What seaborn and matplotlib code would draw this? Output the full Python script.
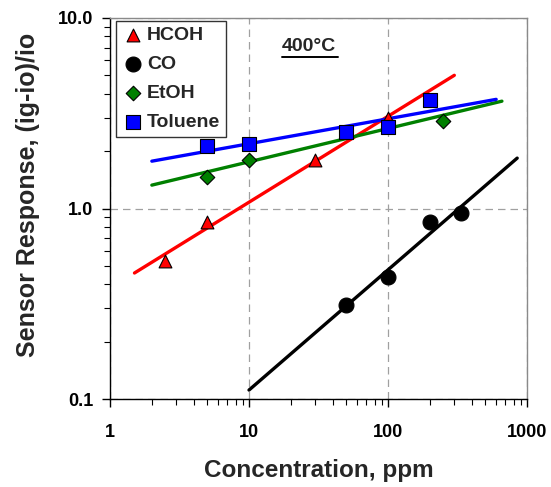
import numpy as np
import pandas as pd
import matplotlib
matplotlib.use("Agg")
import matplotlib.pyplot as plt
import seaborn as sns
from matplotlib.ticker import FixedLocator, NullFormatter, LogLocator

# ---------------- data ----------------
hcoh_x = [2.5, 5, 30, 100]
hcoh_y = [0.53, 0.85, 1.80, 3.0]
co_x = [50, 100, 200, 335]
co_y = [0.31, 0.436, 0.85, 0.945]
etoh_x = [5, 10, 250]
etoh_y = [1.46, 1.80, 2.88]
tol_x = [5, 10, 50, 100, 200]
tol_y = [2.13, 2.18, 2.51, 2.68, 3.72]

# power-law fits: log10(y) = intercept + slope*log10(x), drawn over x range
fit_names = ["HCOH", "CO", "EtOH", "Toluene"]
fit_slope = [0.451, 0.631, 0.175, 0.131]
fit_intercept = [-0.418, -1.584, 0.070, 0.209]
fit_xmin = [1.5, 10, 2, 2]
fit_xmax = [300, 850, 660, 600]

x_ticks = [1, 10, 100, 1000]
x_tick_labels = ["1", "10", "100", "1000"]
y_ticks = [0.1, 1.0, 10.0]
y_tick_labels = ["0.1", "1.0", "10.0"]

colors = {"HCOH": "#ff0000", "CO": "#000000", "EtOH": "#008000", "Toluene": "#0000ff"}
markers = {"HCOH": "^", "CO": "o", "EtOH": "D", "Toluene": "s"}
sizes = {"HCOH": 85, "CO": 115, "EtOH": 55, "Toluene": 95}
series = {"HCOH": (hcoh_x, hcoh_y), "CO": (co_x, co_y),
          "EtOH": (etoh_x, etoh_y), "Toluene": (tol_x, tol_y)}

# ---------------- style ----------------
sns.set_style("white")
FONT = ["Liberation Sans", "DejaVu Sans"]
plt.rcParams["font.family"] = FONT
plt.rcParams["font.weight"] = "bold"

fig = plt.figure(figsize=(5.51, 4.87), dpi=100)
ax = fig.add_axes([110 / 551, 1 - 399 / 487, (527 - 110) / 551, (399 - 18) / 487])
ax.set_xscale("log")
ax.set_yscale("log")

# fit lines
for n, s, b, x0, x1 in zip(fit_names, fit_slope, fit_intercept, fit_xmin, fit_xmax):
    xs = np.array([x0, x1], dtype=float)
    ys = 10 ** (b + s * np.log10(xs))
    sns.lineplot(x=xs, y=ys, ax=ax, color=colors[n], lw=2.4, legend=False,
                 zorder=2, solid_capstyle="round")

# data points
for n, (xv, yv) in series.items():
    sns.scatterplot(x=xv, y=yv, ax=ax, marker=markers[n], s=sizes[n],
                    color=colors[n], edgecolor="black", linewidth=0.8,
                    label=n, zorder=3)

ax.set_xlim(1, 1000)
ax.set_ylim(0.1, 10)

ax.xaxis.set_major_locator(FixedLocator(x_ticks))
ax.set_xticklabels(x_tick_labels)
ax.yaxis.set_major_locator(FixedLocator(y_ticks))
ax.set_yticklabels(y_tick_labels)
ax.xaxis.set_minor_locator(LogLocator(base=10, subs=np.arange(2, 10)))
ax.yaxis.set_minor_locator(LogLocator(base=10, subs=np.arange(2, 10)))
ax.xaxis.set_minor_formatter(NullFormatter())
ax.yaxis.set_minor_formatter(NullFormatter())

ax.tick_params(which="major", direction="out", length=6, width=1, colors="black",
               labelsize=13, pad=12)
ax.tick_params(axis="y", which="major", pad=6)
ax.tick_params(which="minor", direction="out", length=4, width=0.8, colors="black")
ax.tick_params(bottom=True, left=True, which="both")
for lab in ax.get_xticklabels() + ax.get_yticklabels():
    lab.set_fontweight("bold")
    lab.set_family(FONT)

ax.grid(which="major", ls=(0, (6, 4)), color="#a0a0a0", lw=0.9)
ax.grid(which="minor", visible=False)

for side in ["left", "bottom"]:
    ax.spines[side].set_color("black")
    ax.spines[side].set_linewidth(1.0)
for side in ["top", "right"]:
    ax.spines[side].set_color("#8a8a8a")
    ax.spines[side].set_linewidth(1.0)

ax.set_xlabel("Concentration, ppm", fontsize=17.5, fontweight="bold", family=FONT)
ax.set_ylabel("Sensor Response, (ig-io)/io", fontsize=18, fontweight="bold",
              family=FONT)
ax.xaxis.set_label_coords(0.5, -0.158)
ax.yaxis.set_label_coords(-0.168, 0.535)

leg = ax.legend(loc="upper left", bbox_to_anchor=(6 / 417, 1 - 3 / 381), frameon=True,
                borderaxespad=0, fancybox=False, edgecolor="black",
                handletextpad=0.1, borderpad=0.3, labelspacing=0.58,
                handlelength=1.2, prop={"weight": "bold", "size": 14, "family": FONT})
leg.get_frame().set_linewidth(1.0)

ax.text(0.412, 0.924, "400°C", transform=ax.transAxes, fontsize=14,
        fontweight="bold", ha="left", va="center", family=FONT)
ax.plot([0.412, 0.547], [0.898, 0.898], transform=ax.transAxes, color="black",
        lw=1.4, clip_on=False)

fig.savefig("out.png", dpi=100)
